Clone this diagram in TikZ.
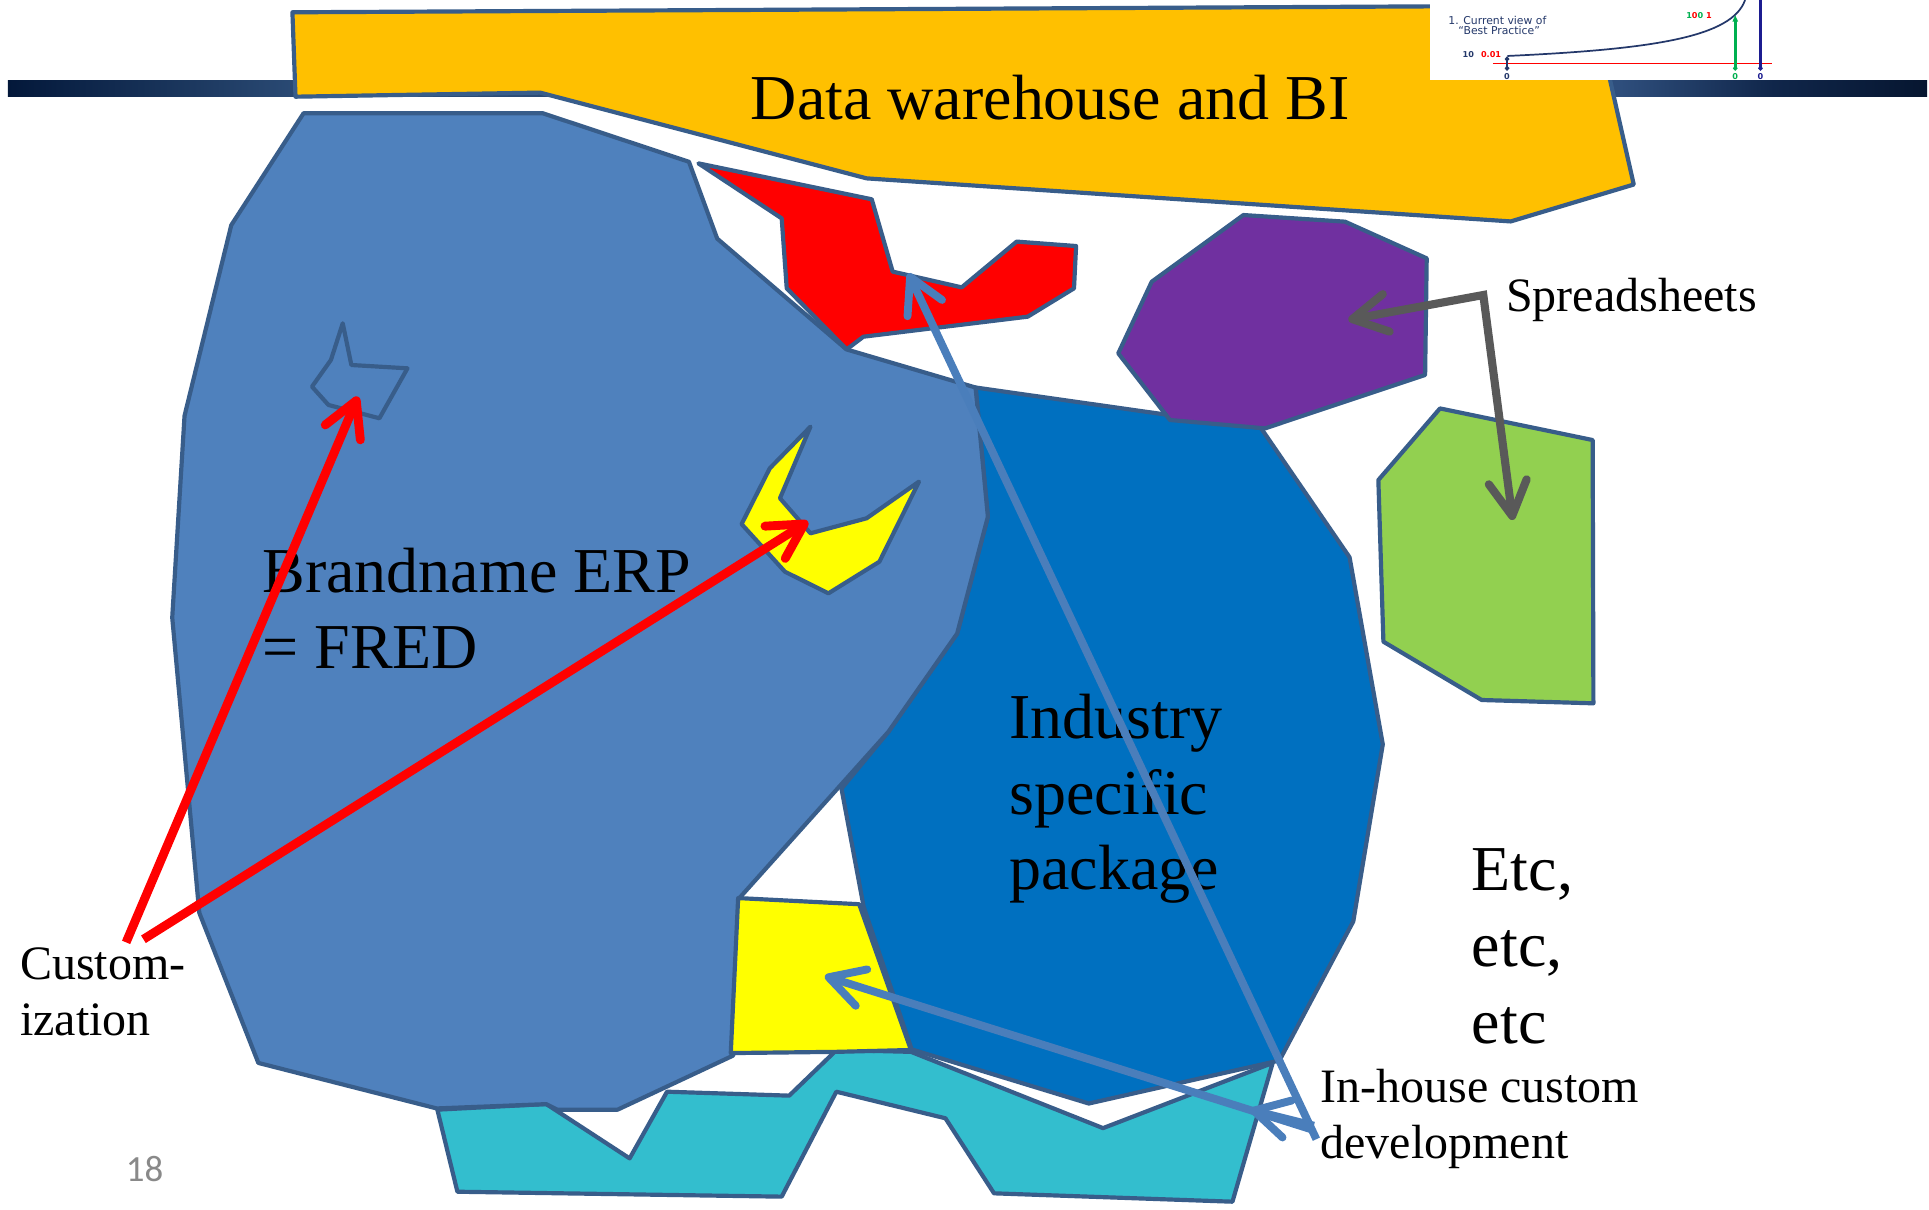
\documentclass[tikz,border=0pt]{standalone}
\usepackage{fontspec}
\setmainfont{Liberation Serif}
\newfontfamily\insetfont{DejaVu Sans}
\newfontfamily\pagefont{Carlito}
\usetikzlibrary{arrows.meta}
\definecolor{outl}{HTML}{385D8A}
\definecolor{dwyellow}{HTML}{FFC000}
\definecolor{erpblue}{HTML}{4F81BD}
\definecolor{indblue}{HTML}{0070C0}
\definecolor{tealc}{HTML}{33BECE}
\definecolor{purplec}{HTML}{7030A0}
\definecolor{greenc}{HTML}{92D050}
\definecolor{yellowc}{HTML}{FFFF00}
\definecolor{redc}{HTML}{FF0000}
\definecolor{arrowgray}{HTML}{595959}
\definecolor{arrowblue}{HTML}{4A7EBB}
\definecolor{pagegray}{HTML}{898989}
\definecolor{insnavy}{HTML}{24386A}
\definecolor{insgreen}{HTML}{00B050}
\definecolor{insblue}{HTML}{1C1C90}
\definecolor{barA}{HTML}{03183A}
\definecolor{barB}{HTML}{2A4A74}
\definecolor{barC}{HTML}{2E4E7C}
\definecolor{barD}{HTML}{10264A}
\definecolor{barE}{HTML}{061630}
\pgfdeclarehorizontalshading{barshade}{100bp}{color(0bp)=(barA); color(25bp)=(barA); color(32.5bp)=(barB); color(67bp)=(barC); color(71bp)=(barD); color(75bp)=(barE); color(100bp)=(barE)}
\begin{document}
\begin{tikzpicture}[x=0.5pt,y=-0.5pt,
  blob/.style={draw=outl,line width=1.7pt,line join=round},
  bigtext/.style={font=\fontsize{26pt}{31pt}\selectfont,inner sep=0pt,anchor=base west},
  midtext/.style={font=\fontsize{19.5pt}{23pt}\selectfont,inner sep=0pt,anchor=base west},
  mybarb/.tip={Straight Barb[length=14pt,width=15.5pt,round]},
  redptr/.style={line width=3.6pt,-mybarb,draw=redc},
  blueptr/.style={line width=3.2pt,-mybarb,draw=arrowblue},
  grayptr/.style={line width=3.3pt,mybarb-mybarb,draw=arrowgray,line join=miter},
  instext/.style={font=\insetfont\fontsize{4.4pt}{5pt}\selectfont,text=insnavy,inner sep=0pt,anchor=west},
  insnum/.style={font=\insetfont\bfseries\fontsize{3.3pt}{4pt}\selectfont,inner sep=0pt}
]
\useasboundingbox (0,0) rectangle (1568,983);
\fill[white] (0,0) rectangle (1568,983);
% header bar
\shade[shading=barshade] (6.5,65.5) rectangle (1566.5,78.8);
% data warehouse shape
\filldraw[blob,fill=dwyellow] (237.7,10) -- (1295,4.5) -- (1328,150) -- (1228,180) -- (704.5,145) -- (439,75.3) -- (240.2,78.6) -- cycle;
% inset thumbnail
\fill[white] (1162,0) rectangle (1442,65);
\node[instext] (insA) at (1177,17) {1. Current view of};
\node[instext] (insB) at (1185,25) {“Best Practice”};
\draw[insnavy,line width=0.7pt] (1225.3,45.5) .. controls (1345,40) and (1408,30) .. (1418.5,0);
\draw[redc,line width=0.6pt] (1213.5,51.5) -- (1440.5,51.5);
\draw[insnavy,line width=0.8pt] (1225,46.5) -- (1225,55.5);
\fill[insnavy] (1225,45.8) -- ++(2,2.2) -- ++(-2,2.2) -- ++(-2,-2.2) -- cycle;
\fill[insnavy] (1225,53.3) -- ++(2,2.2) -- ++(-2,2.2) -- ++(-2,-2.2) -- cycle;
\draw[insgreen,line width=1.1pt] (1410.5,16) -- (1410.5,55.5);
\fill[insgreen] (1410.5,12.5) -- (1412.8,17.5) -- (1408.2,17.5) -- cycle;
\fill[insgreen] (1410.5,53.3) -- ++(2,2.2) -- ++(-2,2.2) -- ++(-2,-2.2) -- cycle;
\draw[insblue,line width=1.1pt] (1431,0) -- (1431,55.5);
\fill[insblue] (1431,53.3) -- ++(2,2.2) -- ++(-2,2.2) -- ++(-2,-2.2) -- cycle;
\node[insnum,text=insnavy] (insN1) at (1193.5,44.7) {10};
\node[insnum,text=redc] (insN2) at (1212,44.7) {0.01};
\node[insnum] (insN3) at (1381,13) {\textcolor{insgreen}{1}\textcolor{redc}{0}\textcolor{insgreen}{0} \textcolor{redc}{1}};
\node[insnum,text=insnavy] (insZ1) at (1225,62) {0};
\node[insnum,text=insgreen] (insZ2) at (1410.5,62) {0};
\node[insnum,text=insblue] (insZ3) at (1431,62) {0};
% industry specific package
\filldraw[blob,fill=indblue] (793,315) -- (1025,348) -- (1097,453) -- (1124,605) -- (1100,749) -- (1040,862) -- (885,897) -- (741,853) -- (702,737) -- (684,641) -- (722,595) -- (778,515) -- (803,420) -- cycle;
% teal in-house shape
\filldraw[blob,fill=tealc] (355.5,902) -- (444,897.4) -- (511.8,941.6) -- (542.2,887.4) -- (641.5,890.6) -- (680,853.5) -- (740.5,855) -- (896.6,917) -- (1034.5,864) -- (1001.8,976.8) -- (808,970) -- (768.5,909) -- (679.8,887.4) -- (635.4,972.7) -- (371.8,968.7) -- cycle;
% brandname ERP
\filldraw[blob,fill=erpblue] (246.8,92) -- (441,92) -- (560,131.5) -- (583,194) -- (688,284) -- (793,315) -- (803,420) -- (778,515) -- (722,595) -- (601,730) -- (596,858) -- (502,902) -- (453,902) -- (444,897.5) -- (355,901) -- (210,864) -- (162,742) -- (140,502) -- (150,338) -- (188,183) -- cycle;
% red customisation shape
\filldraw[blob,fill=redc] (567.7,132.8) -- (708.6,162) -- (725.6,220.8) -- (781.7,233.6) -- (826.4,196.4) -- (874.7,200) -- (873,234.4) -- (835.4,257.4) -- (701.8,273.7) -- (688.2,284) -- (639.5,234.4) -- (635.4,177.5) -- cycle;
% small yellow inside ERP
\filldraw[blob,fill=yellowc] (658.8,346.8) -- (634,405) -- (658.8,433.5) -- (704.4,421.3) -- (747,391.5) -- (714.8,456.6) -- (673.4,482.3) -- (638,464.7) -- (602.8,426) -- (625.7,380.7) -- cycle;
% outline-only shape inside ERP
\draw[blob] (278.6,262.8) -- (285.6,296.7) -- (331.2,299.4) -- (308.4,340) -- (267,329.2) -- (253.6,314.3) -- (269,292.6) -- cycle;
% bottom yellow box
\filldraw[blob,fill=yellowc] (600,730) -- (698.4,735) -- (740.5,853.5) -- (680,855) -- (594,856) -- cycle;
% spreadsheets
\filldraw[blob,fill=purplec] (1010.7,174.8) -- (1093.3,180.2) -- (1159.7,210) -- (1158.4,304.8) -- (1028.3,348.2) -- (951,341.4) -- (909,287.2) -- (936.2,229) -- cycle;
\filldraw[blob,fill=greenc] (1170.5,332) -- (1294.6,357.7) -- (1295.2,571.7) -- (1204.4,569) -- (1124.5,521.6) -- (1120.4,390.2) -- cycle;
% texts
\node[bigtext] (dw) at (610,97) {Data warehouse and BI};
\node[bigtext] (erpA) at (213,482) {Brandname ERP};
\node[bigtext] (erpB) at (213,543.5) {= FRED};
\node[bigtext] (indA) at (820,600) {Industry};
\node[bigtext] (indB) at (820,662) {specific};
\node[bigtext] (indC) at (820,723) {package};
\node[bigtext] (etcA) at (1196,724) {Etc,};
\node[bigtext] (etcB) at (1196,786) {etc,};
\node[bigtext] (etcC) at (1196,848) {etc};
\node[midtext] (spread) at (1224,253.5) {Spreadsheets};
\node[midtext] (inhA) at (1073,896) {In-house custom};
\node[midtext] (inhB) at (1073,942) {development};
\node[midtext] (custA) at (16,796) {Custom-};
\node[midtext] (custB) at (16,842) {ization};
\node[font=\pagefont\fontsize{15pt}{18pt}\selectfont,text=pagegray,inner sep=0pt,anchor=base west] (pg) at (102,960) {18};
% arrow end points
\coordinate (cAs) at (102.5,766);
\coordinate (cAt) at (291,322.4);
\coordinate (cBs) at (116.6,763.5);
\coordinate (cBt) at (656.8,424);
\coordinate (sJ) at (1205.7,239.8);
\coordinate (sP) at (1096,260);
\coordinate (sG) at (1229.6,422.7);
\coordinate (iAs) at (1070,926);
\coordinate (iAt) at (738.4,222.2);
\coordinate (iBs) at (1066,918);
\coordinate (iBt) at (670.5,793.4);
\coordinate (iCs) at (1068,915);
\coordinate (iCt) at (1016,902);
% arrows
\draw[redptr] (cAs) -- (cAt);
\draw[redptr] (cBs) -- (cBt);
\draw[grayptr] (sP) -- (sJ) -- (sG);
\draw[blueptr] (iAs) -- (iAt);
\draw[blueptr] (iBs) -- (iBt);
\draw[blueptr] (iCs) -- (iCt);
\end{tikzpicture}
\end{document}
